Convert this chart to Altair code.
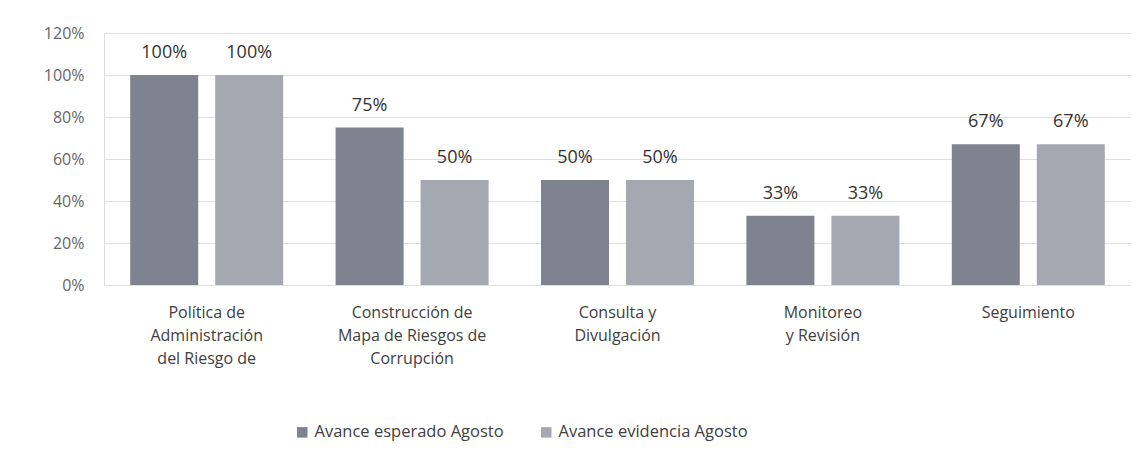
import altair as alt
import pandas as pd

categories = [
    "Política de\nAdministración\ndel Riesgo de",
    "Construcción de\nMapa de Riesgos de\nCorrupción",
    "Consulta y\nDivulgación",
    "Monitoreo\ny Revisión",
    "Seguimiento",
]
series = ["Avance esperado Agosto", "Avance evidencia Agosto"]
esperado = [1.00, 0.75, 0.50, 0.33, 0.67]
evidencia = [1.00, 0.50, 0.50, 0.33, 0.67]
colors = ["#7f838f", "#a5a8b1"]

rows = []
for c, a, b in zip(categories, esperado, evidencia):
    rows.append({"cat": c, "serie": series[0], "val": a})
    rows.append({"cat": c, "serie": series[1], "val": b})
df = pd.DataFrame(rows)

FONT = "Open Sans"

x = alt.X("cat:N", sort=categories, title=None,
          scale=alt.Scale(paddingInner=0.255, paddingOuter=0.1275),
          axis=alt.Axis(labelAngle=0, labelExpr="split(datum.label, '\\n')",
                        labelFontSize=16, labelColor="#404040", labelFont=FONT,
                        labelLineHeight=23, labelPadding=19, ticks=False,
                        domain=False, labelBaseline="top", labelLimit=0))
xo = alt.XOffset("serie:N", sort=series,
                 scale=alt.Scale(paddingInner=0.2, paddingOuter=0))
y = alt.Y("val:Q", title=None,
          scale=alt.Scale(domain=[0, 1.2]),
          axis=alt.Axis(format=".0%", values=[0, 0.2, 0.4, 0.6, 0.8, 1.0, 1.2],
                        labelFontSize=16, labelColor="#666666", labelFont=FONT,
                        labelPadding=20, ticks=False, domain=False,
                        gridColor="#dcdfe8", gridWidth=1))

bars = alt.Chart(df).mark_bar().encode(
    x=x, xOffset=xo, y=y,
    color=alt.Color("serie:N", sort=series,
                    scale=alt.Scale(domain=series, range=colors),
                    legend=alt.Legend(title=None, orient="none", direction="horizontal",
                                      legendX=190, legendY=391, symbolType="square",
                                      symbolSize=110, labelFontSize=16.5,
                                      labelColor="#404040", labelFont=FONT,
                                      labelLimit=0, columnPadding=34,
                                      symbolStrokeWidth=0)),
)

labels = alt.Chart(df).mark_text(baseline="middle", dy=-22, fontSize=18,
                                 color="#333333", font=FONT).encode(
    x=alt.X("cat:N", sort=categories), xOffset=xo, y="val:Q",
    text=alt.Text("val:Q", format=".0%"),
)

chart = (bars + labels).properties(
    width=1027, height=252,
    autosize=alt.AutoSizeParams(type="none"),
    padding={"left": 96, "top": 25, "right": 0, "bottom": 170},
).configure_view(stroke=None).configure(background="#ffffff")

chart.save("out.html", embed_options={"renderer": "svg", "actions": False})
